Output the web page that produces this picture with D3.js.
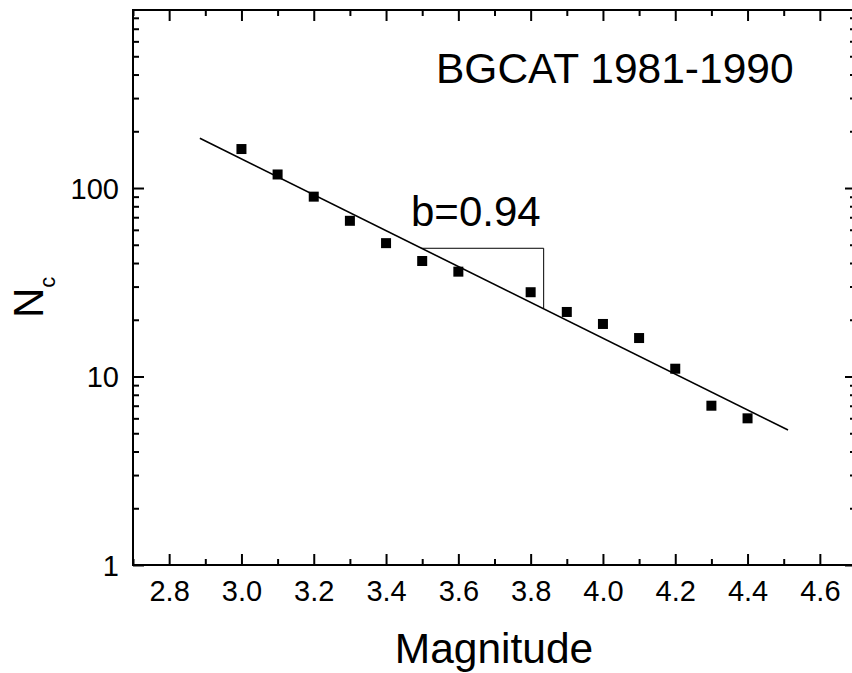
<!DOCTYPE html>
<html><head><meta charset="utf-8">
<script src="https://cdn.jsdelivr.net/npm/d3@7"></script>
<style>
html,body{margin:0;padding:0;background:#fff;}
svg{display:block;font-family:"Liberation Sans",Arial,sans-serif;}
</style></head>
<body><svg id="c" width="852" height="673"></svg>
<script>
// ---- data ----
const magnitudes = [3.0, 3.1, 3.2, 3.3, 3.4, 3.5, 3.6, 3.8, 3.9, 4.0, 4.1, 4.2, 4.3, 4.4];
const counts     = [161, 118, 90, 67, 51, 41, 36, 28, 22, 19, 16, 11, 7, 6];
const fitMag     = [2.885, 4.512];
const fitCount   = [183.5, 5.2];
const triMag     = [3.497, 3.836, 3.836];
const triCount   = [47.9, 47.9, 23.0];
const xMajorTicks = [2.8, 3.0, 3.2, 3.4, 3.6, 3.8, 4.0, 4.2, 4.4, 4.6];
const xMinorTicks = [2.7, 2.9, 3.1, 3.3, 3.5, 3.7, 3.9, 4.1, 4.3, 4.5, 4.7];
const yMajorTicks = [1, 10, 100];
const yMinorTicks = [2,3,4,5,6,7,8,9,20,30,40,50,60,70,80,90,200,300,400,500,600,700,800];
const xDomain = [2.7, 4.7];
const yDomain = [1, 880];
const titleText = "BGCAT 1981-1990";
const slopeText = "b=0.94";

// ---- layout ----
const L = 133, R = 856, T = 10, B = 565;
const svg = d3.select("#c");
const x = d3.scaleLinear().domain(xDomain).range([L, R]);
const y = d3.scaleLog().domain(yDomain).range([B, T]);

const MAJ = 11, MIN = 6;
function styleAxis(g){
  g.select(".domain").remove();
  g.selectAll(".tick line").attr("stroke","#000").attr("stroke-width",2);
}
// bottom
svg.append("g").attr("transform",`translate(0,${B})`)
  .call(d3.axisBottom(x).tickValues(xMajorTicks).tickSize(-MAJ).tickFormat(d3.format(".1f")))
  .call(styleAxis)
  .call(g=>g.selectAll(".tick text").attr("y",15).attr("dy","0.71em")
     .attr("font-size",29).attr("font-family","Liberation Sans, Arial, sans-serif").attr("fill","#000"));
svg.append("g").attr("transform",`translate(0,${B})`)
  .call(d3.axisBottom(x).tickValues(xMinorTicks).tickSize(-MIN).tickFormat(""))
  .call(styleAxis);
// top
svg.append("g").attr("transform",`translate(0,${T})`)
  .call(d3.axisTop(x).tickValues(xMajorTicks).tickSize(-MAJ).tickFormat(""))
  .call(styleAxis);
svg.append("g").attr("transform",`translate(0,${T})`)
  .call(d3.axisTop(x).tickValues(xMinorTicks).tickSize(-MIN).tickFormat(""))
  .call(styleAxis);
// left
svg.append("g").attr("transform",`translate(${L},0)`)
  .call(d3.axisLeft(y).tickValues(yMajorTicks).tickSize(-MAJ).tickFormat(d3.format("d")))
  .call(styleAxis)
  .call(g=>g.selectAll(".tick text").attr("x",-14).attr("dy","0.36em")
     .attr("font-size",29).attr("font-family","Liberation Sans, Arial, sans-serif").attr("fill","#000"));
svg.append("g").attr("transform",`translate(${L},0)`)
  .call(d3.axisLeft(y).tickValues(yMinorTicks).tickSize(-MIN).tickFormat(""))
  .call(styleAxis);
// right
svg.append("g").attr("transform",`translate(${R},0)`)
  .call(d3.axisRight(y).tickValues(yMajorTicks).tickSize(-MAJ).tickFormat(""))
  .call(styleAxis);
svg.append("g").attr("transform",`translate(${R},0)`)
  .call(d3.axisRight(y).tickValues(yMinorTicks).tickSize(-MIN).tickFormat(""))
  .call(styleAxis);

// frame
svg.append("rect").attr("x",L).attr("y",T).attr("width",R-L).attr("height",B-T)
  .attr("fill","none").attr("stroke","#000").attr("stroke-width",2);

// fit line
const line = d3.line().x(d=>x(d[0])).y(d=>y(d[1]));
svg.append("path").datum(d3.zip(fitMag, fitCount)).attr("d", line)
  .attr("fill","none").attr("stroke","#000").attr("stroke-width",1.6);
// slope triangle
svg.append("path").datum(d3.zip(triMag, triCount)).attr("d", line)
  .attr("fill","none").attr("stroke","#000").attr("stroke-width",1);

// points
const S = 10;
svg.append("g").selectAll("rect").data(d3.zip(magnitudes, counts)).join("rect")
  .attr("x", d=>x(d[0])-S/2).attr("y", d=>y(d[1])-S/2)
  .attr("width", S).attr("height", S).attr("fill","#000");

// annotations
svg.append("text").attr("x",436).attr("y",83).attr("font-size",42.5).attr("fill","#000").text(titleText);
svg.append("text").attr("x",411).attr("y",226).attr("font-size",42).attr("fill","#000").text(slopeText);

// axis titles
svg.append("text").attr("x",494).attr("y",663).attr("text-anchor","middle")
  .attr("font-size",42.5).attr("fill","#000").text("Magnitude");
const yl = svg.append("text").attr("transform","translate(43,318) rotate(-90)")
  .attr("font-size",42).attr("fill","#000");
yl.append("tspan").text("N");
yl.append("tspan").attr("dy",12).attr("font-size",22).text("c");
</script></body></html>
